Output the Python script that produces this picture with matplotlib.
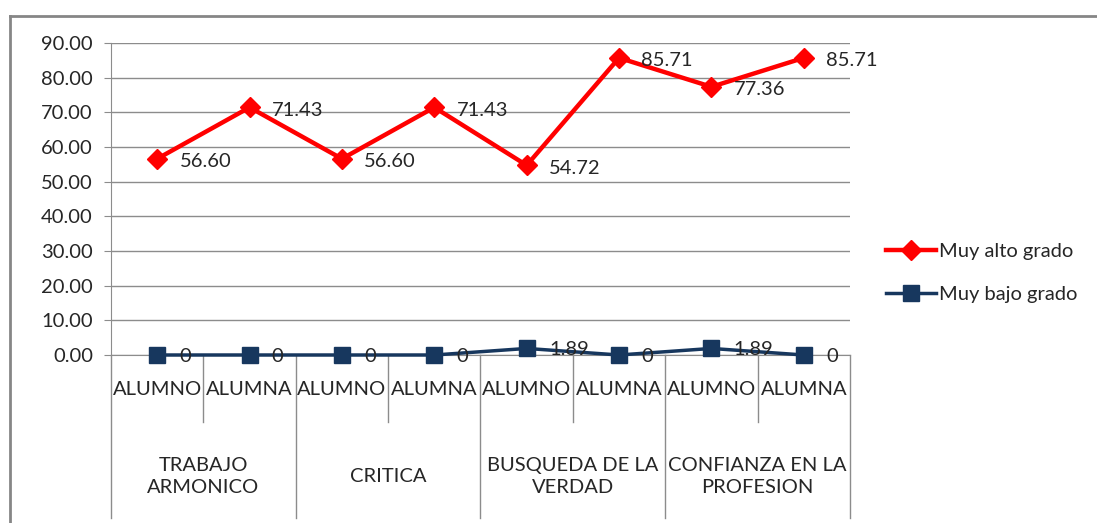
import matplotlib.pyplot as plt
from matplotlib.lines import Line2D

plt.rcParams['font.family'] = ['Lato', 'DejaVu Sans']

# data
grupos = ['TRABAJO\nARMONICO', 'CRITICA', 'BUSQUEDA DE LA\nVERDAD', 'CONFIANZA EN LA\nPROFESION']
sexos = ['ALUMNO', 'ALUMNA']
muy_alto = [56.60, 71.43, 56.60, 71.43, 54.72, 85.71, 77.36, 85.71]
muy_bajo = [0, 0, 0, 0, 1.89, 0, 1.89, 0]
etiq_alto = ['56.60', '71.43', '56.60', '71.43', '54.72', '85.71', '77.36', '85.71']
etiq_bajo = ['0', '0', '0', '0', '1.89', '0', '1.89', '0']

W, H = 1097, 523
fig = plt.figure(figsize=(W / 100, H / 100), dpi=100)
ax = fig.add_axes([111 / W, (H - 355) / H, (850 - 111) / W, (355 - 43) / H])

x = list(range(len(muy_alto)))
grid_c = '#8c8c8c'
txt_c = '#262626'
fs = 14.5

ax.plot(x, muy_alto, color='#ff0000', lw=3.2, marker='D', ms=10, label='Muy alto grado', zorder=3, clip_on=False)
ax.plot(x, muy_bajo, color='#17375e', lw=2.5, marker='s', ms=11, label='Muy bajo grado', zorder=3, clip_on=False)

for xi, v, t in zip(x, muy_alto, etiq_alto):
    ax.annotate(t, (xi, v), xytext=(16, -2), textcoords='offset points', va='center', ha='left',
                fontsize=fs, color=txt_c, zorder=4)
for xi, v, t in zip(x, muy_bajo, etiq_bajo):
    ax.annotate(t, (xi, v), xytext=(16, -1), textcoords='offset points', va='center', ha='left',
                fontsize=fs, color=txt_c, zorder=4, annotation_clip=False)

ax.set_xlim(-0.5, len(x) - 0.5)
ax.set_ylim(0, 90)
ax.set_yticks(range(0, 91, 10))
ax.set_yticklabels([f'{v:.2f}' for v in range(0, 91, 10)], fontsize=fs, color=txt_c)
ax.yaxis.grid(True, color=grid_c, lw=1)
ax.set_axisbelow(True)
ax.tick_params(axis='y', length=5, color=grid_c, pad=8)
ax.set_xticks([])
for s in ['top', 'right']:
    ax.spines[s].set_visible(False)
ax.spines['left'].set_color(grid_c)
ax.spines['bottom'].set_color(grid_c)

# category axis (two levels)
tr = ax.get_xaxis_transform()
for i in range(len(x)):
    ax.text(i, -0.112, sexos[i % 2], transform=tr, ha='center', va='center', fontsize=fs, color=txt_c)
for g, nombre in enumerate(grupos):
    ax.text(2 * g + 0.5, -0.39, nombre, transform=tr, ha='center', va='center', fontsize=fs,
            color=txt_c, linespacing=1.4)
for b in range(len(x) + 1):
    bottom = -0.522 if b % 2 == 0 else -0.215
    ax.plot([b - 0.5, b - 0.5], [0, bottom], transform=tr, color=grid_c, lw=1, clip_on=False)

fig.legend(loc='center left', bbox_to_anchor=(868 / W, (H - 273) / H), frameon=False, fontsize=fs,
           handlelength=2.5, handletextpad=0.15, labelspacing=1.25, labelcolor=txt_c)

# outer chart border (top and left visible)
fig.add_artist(Line2D([10 / W, 1], [(H - 16) / H] * 2, color='#868686', lw=2))
fig.add_artist(Line2D([10 / W] * 2, [0, (H - 16) / H], color='#868686', lw=2))

fig.savefig('out.png', dpi=100, facecolor='white')
